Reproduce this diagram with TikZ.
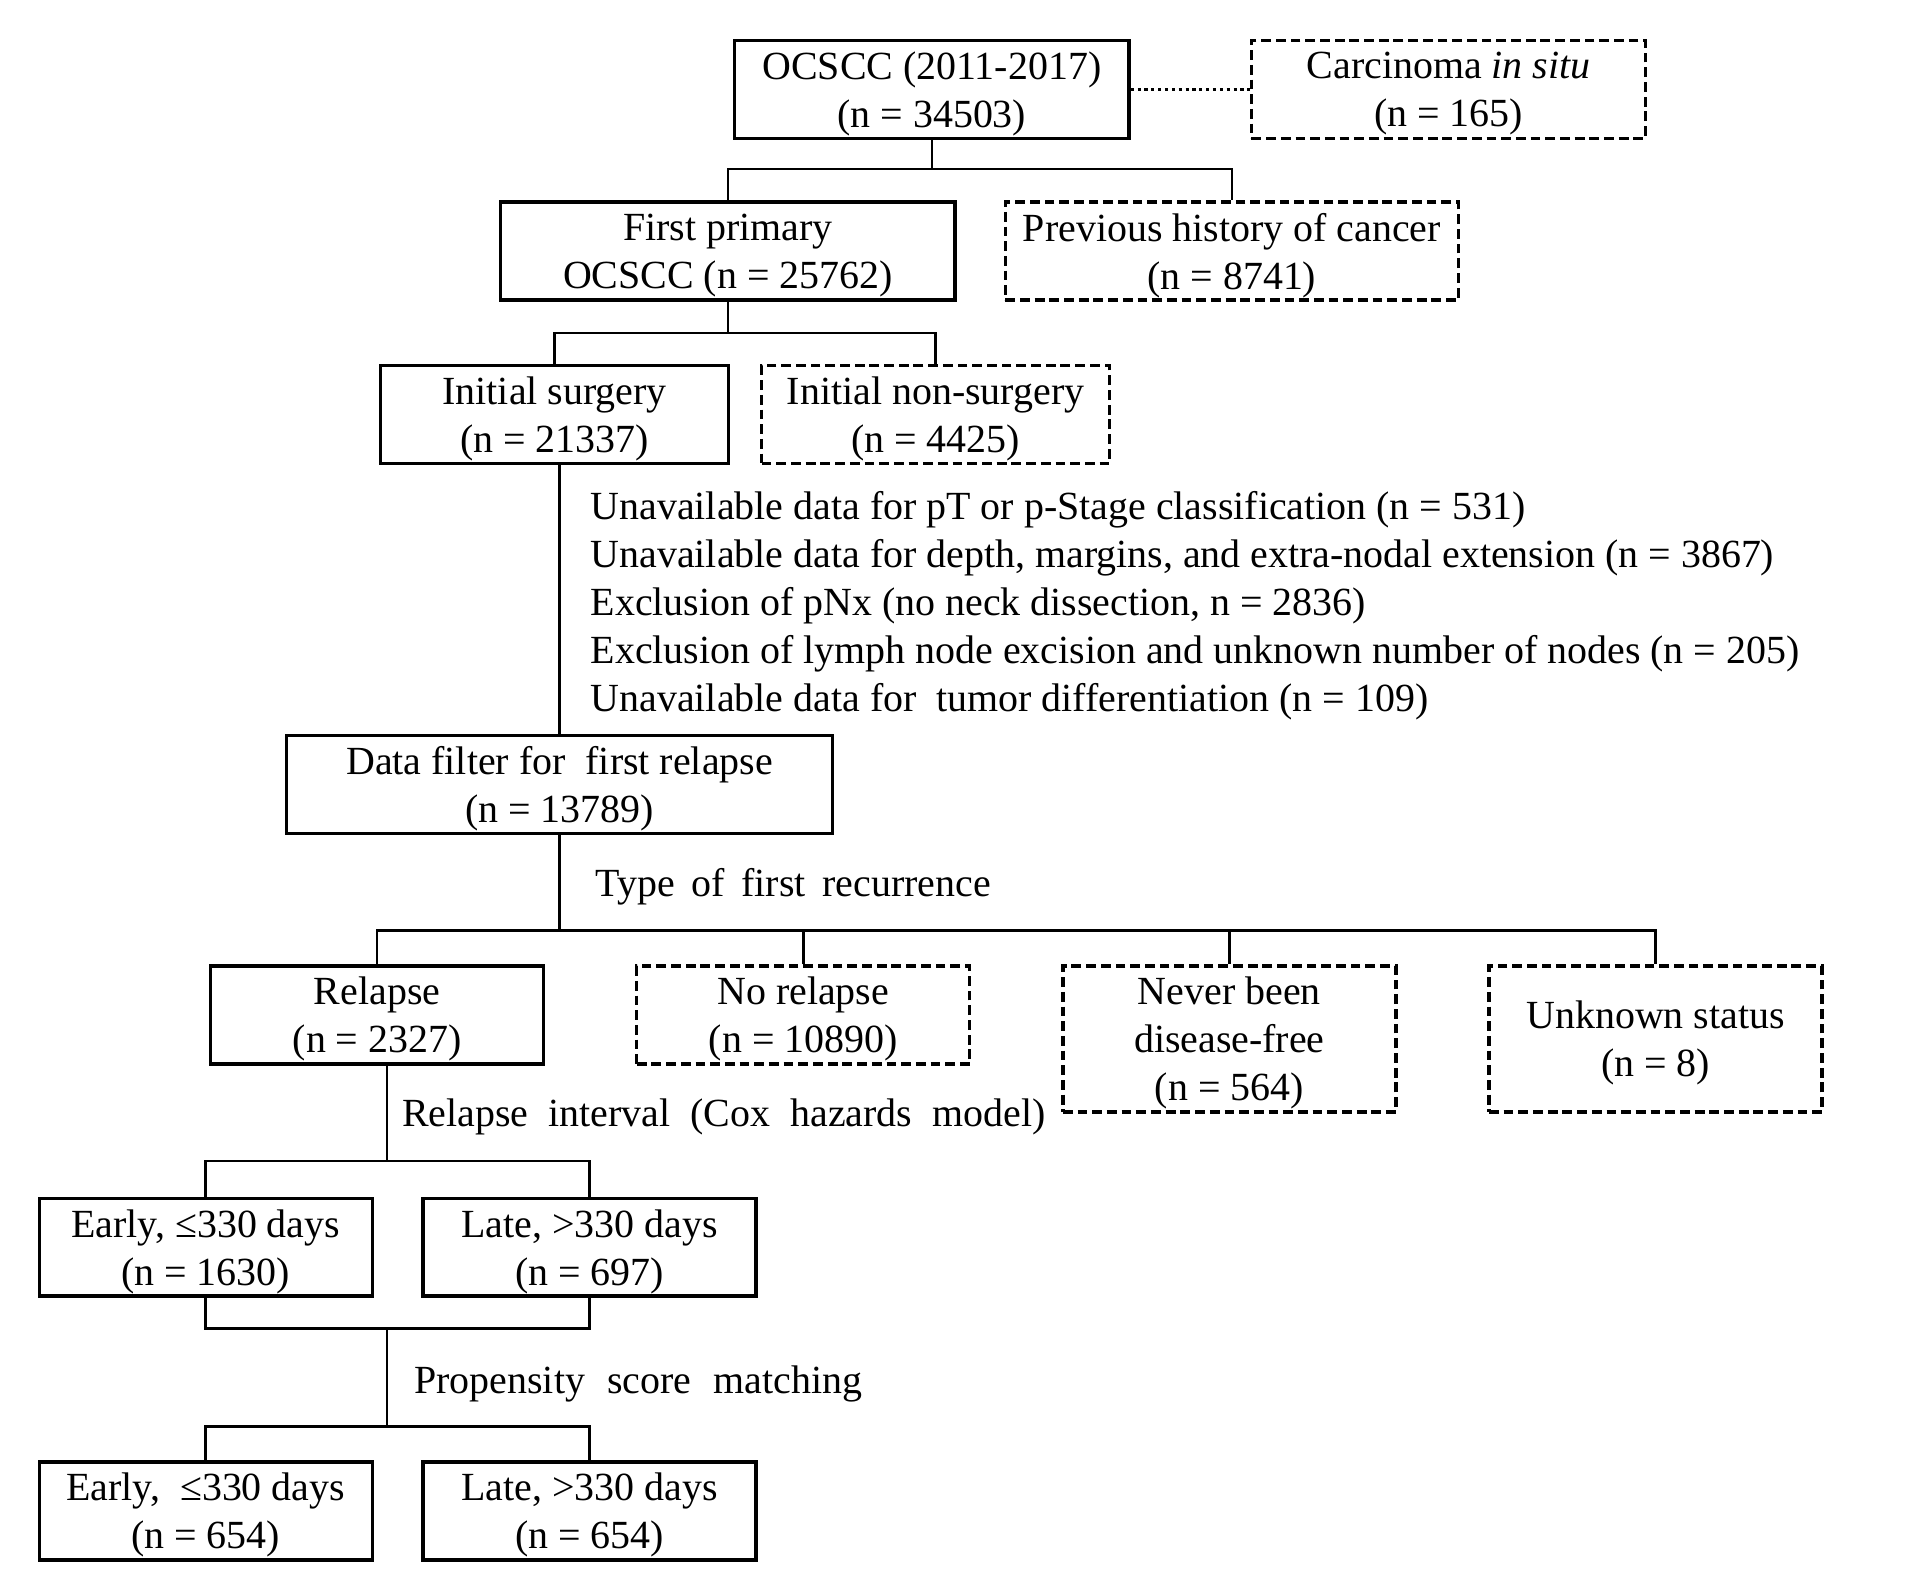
\documentclass[tikz,border=0pt]{standalone}
\usepackage{fontspec}
\setmainfont{Liberation Serif}
\tikzset{
  txt/.style={font=\fontsize{16.3}{19.6}\selectfont},
  box/.style={txt, draw, line width=1.35pt, align=center, inner sep=0pt, minimum height=40pt, text depth=-0.3pt},
  dbox/.style={box, dash pattern=on 4pt off 2pt},
  link/.style={line width=1pt},
  lbl/.style={txt, anchor=west, inner sep=0pt, align=left},
}
\begin{document}
\begin{tikzpicture}[x=0.5pt,y=-0.5pt]
        \useasboundingbox[fill=white] (0,0) rectangle (1568,1297);
        \node [box, minimum width=161pt] (ocscc) at (761,73) {OCSCC (2011-2017)\\(n = 34503)};
        \node [dbox, minimum width=161pt] (situ) at (1183,73) {Carcinoma \textit{in situ}\\(n = 165)};
        \node [box, minimum width=185.5pt] (first) at (594.5,205) {First primary\\OCSCC (n = 25762)};
        \node [dbox, minimum width=185pt] (prev) at (1006,205) {Previous history of cancer\\(n = 8741)};
        \node [box, minimum width=142pt] (surg) at (453,338.5) {Initial surgery\\(n = 21337)};
        \node [dbox, minimum width=142pt] (nonsurg) at (764,338.5) {Initial non-surgery\\(n = 4425)};
        \node [box, minimum width=223pt] (filter) at (457,640.5) {Data filter for\ \ first relapse\\(n = 13789)};
        \node [box, minimum width=136pt] (relapse) at (308,829) {Relapse\\(n = 2327)};
        \node [dbox, minimum width=136pt] (norel) at (656,829) {No relapse\\(n = 10890)};
        \node [dbox, minimum width=136pt, minimum height=59.5pt] (never) at (1004,848.5) {Never been\\disease-free\\(n = 564)};
        \node [dbox, minimum width=136pt, minimum height=59.5pt] (unknown) at (1352,848.5) {Unknown status\\(n = 8)};
        \node [box, minimum width=136pt] (early1) at (168,1018.5) {Early, ≤330 days\\(n = 1630)};
        \node [box, minimum width=136pt] (late1) at (481.5,1018.5) {Late, >330 days\\(n = 697)};
        \node [box, minimum width=136pt] (early2) at (168,1234) {Early,\ \ ≤330 days\\(n = 654)};
        \node [box, minimum width=136pt] (late2) at (481.5,1234) {Late, >330 days\\(n = 654)};
        \node [lbl] (excl) at (482,495) {Unavailable data for pT or p-Stage classification (n = 531)\\
          Unavailable data for depth, margins, and extra-nodal extension (n = 3867)\\
          Exclusion of pNx (no neck dissection, n = 2836)\\
          Exclusion of lymph node excision and unknown number of nodes (n = 205)\\
          Unavailable data for\ \ tumor differentiation (n = 109)};
        \node [lbl] (type) at (486,724) {\spaceskip=6.8pt Type of first recurrence};
        \node [lbl] (interval) at (328,912) {\spaceskip=8.2pt Relapse interval (Cox hazards model)};
        \node [lbl] (psm) at (338,1130) {\spaceskip=9pt Propensity score matching};
        \coordinate (j1) at (761,138);
        \coordinate (j2) at (594.5,272);
        \coordinate (j3) at (457,760);
        \coordinate (j4) at (316,948);
        \coordinate (j5) at (316,1085);
        \coordinate (j6) at (316,1165);
        \draw [link, line width=1.5pt, dash pattern=on 1.3pt off 1.5pt] (ocscc.east) -- (situ.west);
        \draw [link] (ocscc.south) -- (j1);
        \draw [link] (first.north) |- (j1) -| (prev.north);
        \draw [link] (first.south) -- (j2);
        \draw [link] (surg.north) |- (j2) -| (nonsurg.north);
        \draw [link] (surg.south -| filter.north) -- (filter.north);
        \draw [link] (filter.south) -- (j3);
        \draw [link] (relapse.north) |- (j3) -| (unknown.north);
        \draw [link] (norel.north) -- (norel.north |- j3);
        \draw [link] (never.north) -- (never.north |- j3);
        \draw [link] (relapse.south -| j4) -- (j4);
        \draw [link] (early1.north) |- (j4) -| (late1.north);
        \draw [link] (early1.south) |- (j5) -| (late1.south);
        \draw [link] (j5) -- (j6);
        \draw [link] (early2.north) |- (j6) -| (late2.north);
      \end{tikzpicture}
\end{document}
